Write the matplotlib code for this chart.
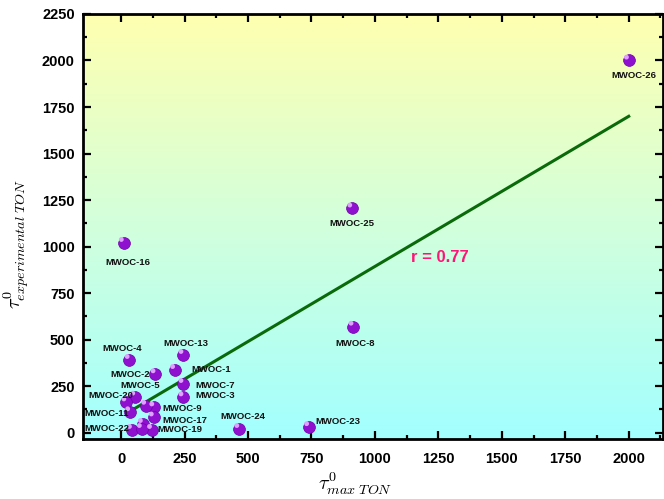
import numpy as np
import matplotlib
matplotlib.use("Agg")
import matplotlib.pyplot as plt
from matplotlib.colors import LinearSegmentedColormap

plt.rcParams["mathtext.fontset"] = "cm"

# Catalyst labels and their turnover values
labels = ["MWOC-1", "MWOC-2", "MWOC-3", "MWOC-4", "MWOC-5", "MWOC-7", "MWOC-8",
          "MWOC-9", "MWOC-11", "MWOC-13", "MWOC-16", "MWOC-17", "MWOC-19",
          "MWOC-20", "MWOC-22", "MWOC-23", "MWOC-24", "MWOC-25", "MWOC-26",
          "", "", ""]
tau_max = [212, 135, 245, 33, 55, 245, 915, 130, 35, 245, 10, 128, 121,
           20, 42, 740, 465, 910, 2000, 98, 85, 81]
tau_exp = [337, 314, 190, 391, 194, 262, 570, 136, 110, 418, 1020, 82, 15,
           163, 15, 30, 20, 1205, 2000, 145, 47, 20]

# Linear fit of the turnover correlation
fit_slope = 0.807
fit_intercept = 86
fit_x_range = [28, 2000]
r_value = 0.77

x_ticks = [0, 250, 500, 750, 1000, 1250, 1500, 1750, 2000]
y_ticks = [0, 250, 500, 750, 1000, 1250, 1500, 1750, 2000, 2250]

# label offsets (points) and alignment for each annotated point
label_offsets = {
    "MWOC-1": (12, 0, "left", "center"),
    "MWOC-2": (-4, 0, "right", "center"),
    "MWOC-3": (9, 1, "left", "center"),
    "MWOC-4": (-5, 8, "center", "center"),
    "MWOC-5": (4, 8, "center", "center"),
    "MWOC-7": (9, -1, "left", "center"),
    "MWOC-8": (1, -12, "center", "center"),
    "MWOC-9": (6, -1, "left", "center"),
    "MWOC-11": (-1, -1, "right", "center"),
    "MWOC-13": (2, 8, "center", "center"),
    "MWOC-16": (3, -14, "center", "center"),
    "MWOC-17": (6, -2, "left", "center"),
    "MWOC-19": (4, 0, "left", "center"),
    "MWOC-20": (-11, 5, "center", "center"),
    "MWOC-22": (-2, 1, "right", "center"),
    "MWOC-23": (5, 4, "left", "center"),
    "MWOC-24": (3, 9, "center", "center"),
    "MWOC-25": (0, -11, "center", "center"),
    "MWOC-26": (4, -11, "center", "center"),
}

fig = plt.figure(figsize=(6.64, 4.99), dpi=100)
ax = fig.add_axes([0.125, 0.12, 0.8735, 0.852])

xlim = (-150, 2135)
ylim = (-35, 2250)
ax.set_xlim(*xlim)
ax.set_ylim(*ylim)

# vertical background gradient: cyan at bottom to pale yellow at top
cmap = LinearSegmentedColormap.from_list("bg", ["#a2ffff", "#d2ffdc", "#ffffb0"])
grad = np.linspace(0, 1, 256).reshape(-1, 1)
ax.imshow(grad, cmap=cmap, origin="lower", aspect="auto",
          extent=[xlim[0], xlim[1], ylim[0], ylim[1]], zorder=0)

# regression line
xs = np.array(fit_x_range)
ax.plot(xs, fit_slope * xs + fit_intercept, color="#0a6a0a", lw=2.2, zorder=2)

# spherical markers: base disc plus a soft highlight
ax.scatter(tau_max, tau_exp, s=72, color="#9010d0", edgecolors="#7000a8",
           linewidths=0.5, zorder=3)
hx = np.array(tau_max) - 9
hy = np.array(tau_exp) + 18
ax.scatter(hx, hy, s=12, color="#e0a0ff", edgecolors="none", zorder=4)

for lab, xv, yv in zip(labels, tau_max, tau_exp):
    if not lab:
        continue
    dx, dy, ha, va = label_offsets[lab]
    ax.annotate(lab, (xv, yv), xytext=(dx, dy), textcoords="offset points",
                ha=ha, va=va, fontsize=6.8, fontweight="bold",
                family="Liberation Sans", color="#111111", zorder=5)

ax.text(1257, 942, f"r = {r_value:.2f}", color="#ff1478", fontsize=12,
        fontweight="bold", family="Liberation Sans", ha="center", va="center",
        zorder=5)

ax.set_xticks(x_ticks)
ax.set_yticks(y_ticks)
ax.set_xticks(np.arange(125, 2135, 250), minor=True)
ax.set_yticks(np.arange(125, 2250, 250), minor=True)
ax.tick_params(which="both", direction="in", top=True, right=True, width=1.6,
               labelsize=10.5)
ax.tick_params(which="major", length=6)
ax.tick_params(axis="x", which="major", pad=9)
ax.tick_params(axis="y", which="major", pad=6)
ax.tick_params(which="minor", length=3)
for lbl in ax.get_xticklabels() + ax.get_yticklabels():
    lbl.set_fontweight("bold")
    lbl.set_family("Liberation Sans")
for sp in ax.spines.values():
    sp.set_linewidth(2)

ax.set_xlabel(r"$\tau^{0}_{max\ TON}$", fontsize=14.5)
ax.set_ylabel(r"$\tau^{0}_{experimental\ TON}$", fontsize=14.5)
ax.xaxis.set_label_coords(0.47, -0.073)
ax.yaxis.set_label_coords(-0.09, 0.46)

fig.savefig("out.png", dpi=100)
